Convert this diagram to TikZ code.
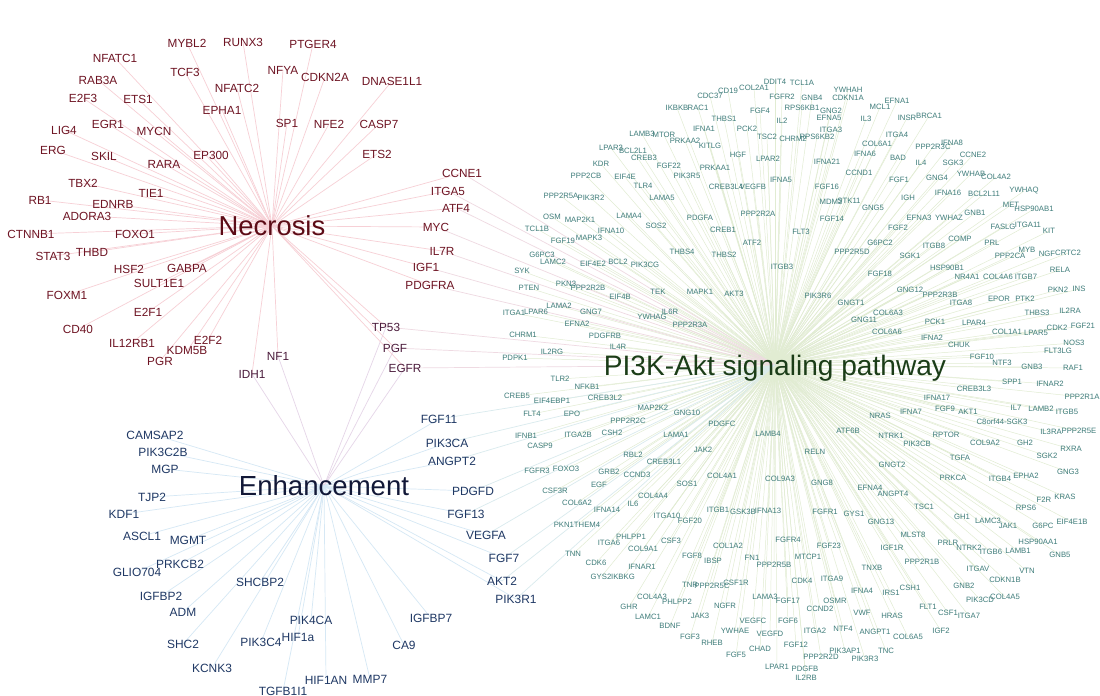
\documentclass[tikz,border=0pt]{standalone}
\usepackage{fontspec}
\setmainfont{Liberation Sans}
\pgfdeclarelayer{back}
\pgfdeclarelayer{bg}
\pgfsetlayers{back,bg,main}
\definecolor{pcol}{HTML}{3E7C7A}
\definecolor{ptit}{HTML}{1B3D18}
\definecolor{ncol}{HTML}{6E1423}
\definecolor{ntit}{HTML}{5C0B16}
\definecolor{ecol}{HTML}{1F3864}
\definecolor{etit}{HTML}{121837}
\definecolor{scol}{HTML}{4B1C3C}
\definecolor{pedge}{HTML}{E1ECD2}
\definecolor{nedge}{HTML}{F7D0D6}
\definecolor{eedge}{HTML}{D6E8F5}
\definecolor{npedge}{HTML}{EFDAE2}
\definecolor{epedge}{HTML}{DAEBEE}
\definecolor{needge}{HTML}{E6D6E8}
\tikzset{
  pg/.style={text=pcol, font=\fontsize{4.4}{5}\selectfont, inner sep=0pt},
  ng/.style={text=ncol, font=\fontsize{6.7}{8}\selectfont, inner sep=0pt},
  eg/.style={text=ecol, font=\fontsize{6.8}{8}\selectfont, inner sep=0pt},
  sg/.style={text=scol, font=\fontsize{6.7}{8}\selectfont, inner sep=0pt},
  ttl/.style={inner sep=0pt, text depth=0pt},
  pe/.style={draw=pedge, line width=0.28pt},
  ne/.style={draw=nedge, line width=0.4pt},
  ee/.style={draw=eedge, line width=0.4pt},
  npe/.style={draw=npedge, line width=0.4pt},
  epe/.style={draw=epedge, line width=0.4pt},
  nee/.style={draw=needge, line width=0.4pt}
}
\def\PIlist{IKBKB/677/108, RAC1/698/108, LAMB3/642/134, MTOR/664/135, PRKAA2/685/141, LPAR3/611/148, BCL2L1/633/151, CREB3/644/158, KDR/601/164, FGF22/669/166, PIK3R5/687/176, PPP2CB/586/176, EIF4E/625/177, TLR4/643/186, PPP2R5A/561/196, PIK3R2/591/198, LAMA5/662/198, LAMA4/629/216, OSM/552/217, MAP2K1/580/220, SOS2/656/226, TCL1B/537/229, IFNA10/611/231, FGF19/563/241, MAPK3/589/238, PDGFA/700/218, THBS4/682/252, G6PC3/542/255, LAMC2/553/262, EIF4E2/593/264, BCL2/618/262, PIK3CG/645/265, SYK/522/271, PKN3/566/284,
CDC37/710/96, CD19/728/91, COL2A1/754/88, DDIT4/775/82, TCL1A/802/83, YWHAH/848/90, FGFR2/782/97, GNB4/812/98, CDKN1A/848/98, MCL1/880/107, EFNA1/897/101, FGF4/760/111, RPS6KB1/802/108, GNG2/831/111, EFNA5/829/118, IL3/866/119, THBS1/724/119, IL2/782/121, IFNA1/704/129, PCK2/747/129, TSC2/767/137, CHRM2/793/139, RPS6KB2/817/137, ITGA3/831/130, INSR/907/118, KITLG/710/146, COL6A1/877/144, ITGA4/897/135, HGF/738/155, LPAR2/768/159, IFNA21/827/162, IFNA6/865/154, BAD/898/158, PRKAA1/715/168, CCND1/859/173, IFNA5/781/180, CREB3L4/726/187, VEGFB/753/187, FGF16/827/187, FGF1/899/180, MDM2/831/202, STK11/849/201, GNG5/873/208, PPP2R2A/758/214, FGF14/832/219, FGF2/898/228, CREB1/723/230, FLT3/801/232, ATF2/752/243, G6PC2/880/243, THBS2/724/255, PPP2R5D/852/252, SGK1/910/256, ITGB3/782/267, FGF18/880/274,
BRCA1/929/116, IFNA8/952/143, PPP2R3C/933/147, CCNE2/973/155, IL4/921/163, SGK3/953/163, YWHAB/971/174, COL4A2/996/177, GNG4/937/178, YWHAQ/1024/191, IGH/908/198, IFNA16/948/193, BCL2L11/984/194, MET/1011/205, HSP90AB1/1034/209, EFNA3/919/218, YWHAZ/949/218, GNB1/975/213, FASLG/1003/227, ITGA11/1028/225, KIT/1049/231, COMP/960/239, ITGB8/934/246, PRL/992/243, MYB/1027/250, NGF/1047/254, CRTC2/1068/253, PPP2CA/1010/256, HSP90B1/947/268, NR4A1/967/277, COL4A6/998/277, ITGB7/1026/277, RELA/1060/270,
PTEN/529/288, PPP2R2B/588/288, EIF4B/620/297, TEK/658/292, MAPK1/700/292, ITGA1/514/313, LPAR6/536/312, LAMA2/559/306, GNG7/591/312, YWHAG/652/317, IL6R/670/312, PPP2R3A/690/325, EFNA2/577/324, CHRM1/523/335, PDGFRB/605/336, IL4R/618/347, PDPK1/515/358, IL2RG/552/352, TLR2/560/379, NFKB1/587/387, CREB5/517/396, EIF4EBP1/552/401, CREB3L2/605/398, MAP2K2/653/408, FLT4/532/414, EPO/572/414, PPP2R2C/628/421, GNG10/687/413, IFNB1/526/436, CASP9/540/446, ITGA2B/578/435, CSH2/612/433, LAMA1/676/435, JAK2/703/450, RBL2/633/455, CREB3L1/664/462, FGFR3/537/471, FOXO3/566/469, GRB2/609/472, CCND3/637/475, EGF/599/485, CSF3R/555/491, SOS1/687/484,
AKT3/734/294, PIK3R6/818/296, GNGT1/851/303, GNG11/864/320, PDGFC/722/424, LAMB4/768/434, ATF6B/848/431, NRAS/880/416, NTRK1/891/436, RELN/815/452, GNGT2/892/465, COL4A1/722/476, COL9A3/780/479, GNG8/822/483, EFNA4/870/488,
GNG12/910/290, PPP2R3B/940/295, ITGA8/961/303, EPOR/999/299, PTK2/1025/299, PKN2/1058/290, INS/1079/289, COL6A3/888/313, PCK1/935/322, LPAR4/974/323, THBS3/1037/313, IL2RA/1070/311, COL6A6/887/332, IFNA2/932/338, COL1A1/1007/332, LPAR5/1036/333, CDK2/1057/328, FGF21/1083/326, CHUK/959/345, NOS3/1074/343, FLT3LG/1058/351, FGF10/982/357, NTF3/1002/363, GNB3/1032/367, RAF1/1073/368, SPP1/1012/382, IFNAR2/1050/384, CREB3L3/974/389, PPP2R1A/1082/397, IFNA17/937/398, IFNA7/911/412, FGF9/945/409, AKT1/968/412, IL7/1016/408, LAMB2/1041/409, ITGB5/1067/412, C8orf44-SGK3/1002/422, IL3RA/1051/432, PPP2R5E/1079/431, RPTOR/946/435, PIK3CB/917/444, COL9A2/985/443, GH2/1025/443, RXRA/1071/449, SGK2/1047/456, TGFA/960/458, GNG3/1068/472, PRKCA/953/478, ITGB4/1000/479, EPHA2/1026/476,
COL6A2/577/503, IFNA14/607/510, IL6/633/504, COL4A4/653/496, ITGA10/667/516, FGF20/690/521, PKN1THEM4/577/525, PHLPP1/631/537, ITGA6/609/543, CSF3/671/541, COL9A1/643/549, FGF8/692/556, TNN/573/554, CDK6/596/563, IFNAR1/642/567, GYS2/601/577, IKBKG/623/577, TNR/690/585, COL4A3/652/597, PHLPP2/677/602, GHR/629/607, JAK3/700/616, LAMC1/648/617, BDNF/670/626, FGF3/690/637,
ITGB1/718/510, GSK3B/743/512, IFNA13/768/511, ANGPT4/893/494, FGFR1/825/512, GYS1/854/514, GNG13/881/522, COL1A2/728/546, FGFR4/788/540, FGF23/829/546, IGF1R/892/548, IBSP/713/561, FN1/752/558, PPP2R5B/774/565, MTCP1/808/557, TNXB/872/568, CDK4/802/581, ITGA9/832/579, PPP2R5C/712/586, CSF1R/736/583, IFNA4/862/591, IRS1/891/593, LAMA3/765/597, FGF17/788/601, OSMR/835/601, NGFR/725/606, CCND2/820/609, VWF/862/613, HRAS/892/616, VEGFC/753/621, FGF6/788/621, ITGA2/815/631, NTF4/843/629, ANGPT1/875/632, COL6A5/908/637, YWHAE/735/631, VEGFD/770/634, RHEB/712/643, CHAD/760/649, FGF12/796/645, FGF5/736/655, PIK3AP1/845/651, TNC/886/651, PPP2R2D/821/657, PIK3R3/865/659, LPAR1/777/667, PDGFB/805/669, IL2RB/806/678,
F2R/1044/500, KRAS/1065/497, TSC1/924/507, RPS6/1026/508, GH1/962/517, LAMC3/988/521, JAK1/1008/526, G6PC/1043/526, EIF4E1B/1072/522, MLST8/913/535, PRLR/948/543, NTRK2/969/548, HSP90AA1/1038/542, ITGB6/991/552, LAMB1/1018/551, GNB5/1060/555, PPP2R1B/922/562, ITGAV/978/569, VTN/1027/571, CDKN1B/1005/580, CSH1/910/588, GNB2/964/586, PIK3CD/980/600, COL4A5/1005/597, FLT1/928/607, CSF1/948/613, ITGA7/969/616, IGF2/941/631}
\def\NElist{MYBL2/187/43, RUNX3/243/42, PTGER4/313/44, NFATC1/115/58, TCF3/185/72, NFYA/283/70, CDKN2A/325/77, DNASE1L1/392/81, RAB3A/98/80, NFATC2/237/88, E2F3/83/98, ETS1/138/99, EPHA1/222/110, LIG4/64/130, EGR1/108/124, MYCN/154/131, SP1/287/123, NFE2/329/124, CASP7/379/124, ERG/53/150, SKIL/104/156, RARA/164/164, EP300/211/155, ETS2/377/154, TBX2/83/183, TIE1/151/193, RB1/40/200, EDNRB/113/204, ADORA3/87/216, CTNNB1/31/234, FOXO1/135/234, STAT3/53/256, THBD/92/252, HSF2/129/269, GABPA/187/268, SULT1E1/159/283, FOXM1/67/295, E2F1/148/312, CD40/78/329, IL12RB1/132/343, E2F2/208/340, KDM5B/187/351, PGR/160/361}
\def\NPlist{CCNE1/462/173, ITGA5/448/191, ATF4/456/208, MYC/436/227, IL7R/442/251, IGF1/426/267, PDGFRA/430/285}
\def\NEPlist{TP53/386/327, PGF/395/348, EGFR/405/368}
\def\NEElist{NF1/278/356, IDH1/252/374}
\def\ENlist{CAMSAP2/155/435, PIK3C2B/163/452, MGP/165/469, TJP2/152/497, KDF1/124/514, ASCL1/142/536, MGMT/188/540, PRKCB2/180/564, GLIO704/137/572, SHCBP2/260/582, IGFBP2/161/596, ADM/183/612, PIK4CA/311/620, IGFBP7/431/618, SHC2/183/644, PIK3C4/261/642, HIF1a/298/637, CA9/404/645, KCNK3/212/668, HIF1AN/326/680, MMP7/370/679, TGFB1I1/283/691}
\def\EPlist{FGF11/439/419, PIK3CA/447/443, ANGPT2/452/461, PDGFD/473/491, FGF13/466/514, VEGFA/486/535, FGF7/504/558, AKT2/502/581, PIK3R1/516/599}
\begin{document}
\begin{tikzpicture}[x=0.02cm,y=-0.02cm]
\begin{pgfonlayer}{back}
\fill[white] (0,0) rectangle (1100,696);
\end{pgfonlayer}
\useasboundingbox (0,0) rectangle (1100,696);
% hubs
\node[ttl, text=ntit, font=\fontsize{15.6}{18}\selectfont] (nt) at (272,226) {Necrosis};
\node[ttl, text=etit, font=\fontsize{15.7}{18}\selectfont] (et) at (324,486) {Enhancement};
\node[ttl, text=ptit, font=\fontsize{16}{19}\selectfont] (pt) at (775,365) {PI3K-Akt signaling pathway};
% genes
\foreach \g/\x/\y in \PIlist { \node[pg] (p-\g) at (\x,\y) {\g}; }
\foreach \g/\x/\y in \NElist { \node[ng] (n-\g) at (\x,\y) {\g}; }
\foreach \g/\x/\y in \NPlist { \node[ng] (n-\g) at (\x,\y) {\g}; }
\foreach \g/\x/\y in \NEPlist { \node[sg] (s-\g) at (\x,\y) {\g}; }
\foreach \g/\x/\y in \NEElist { \node[sg] (s-\g) at (\x,\y) {\g}; }
\foreach \g/\x/\y in \ENlist { \node[eg] (e-\g) at (\x,\y) {\g}; }
\foreach \g/\x/\y in \EPlist { \node[eg] (x-\g) at (\x,\y) {\g}; }
% connectors
\begin{pgfonlayer}{bg}
\foreach \g/\x/\y in \PIlist { \draw[pe] (pt.center) -- (p-\g.center); }
\foreach \g/\x/\y in \NElist { \draw[ne] (nt.center) -- (n-\g.center); }
\foreach \g/\x/\y in \NPlist { \draw[ne] (nt.center) -- (n-\g.center); \draw[npe] (pt.center) -- (n-\g.center); }
\foreach \g/\x/\y in \NEPlist { \draw[ne] (nt.center) -- (s-\g.center); \draw[nee] (et.center) -- (s-\g.center); \draw[npe] (pt.center) -- (s-\g.center); }
\foreach \g/\x/\y in \NEElist { \draw[ne] (nt.center) -- (s-\g.center); \draw[nee] (et.center) -- (s-\g.center); }
\foreach \g/\x/\y in \ENlist { \draw[ee] (et.center) -- (e-\g.center); }
\foreach \g/\x/\y in \EPlist { \draw[ee] (et.center) -- (x-\g.center); \draw[epe] (pt.center) -- (x-\g.center); }
\end{pgfonlayer}
\end{tikzpicture}
\end{document}
